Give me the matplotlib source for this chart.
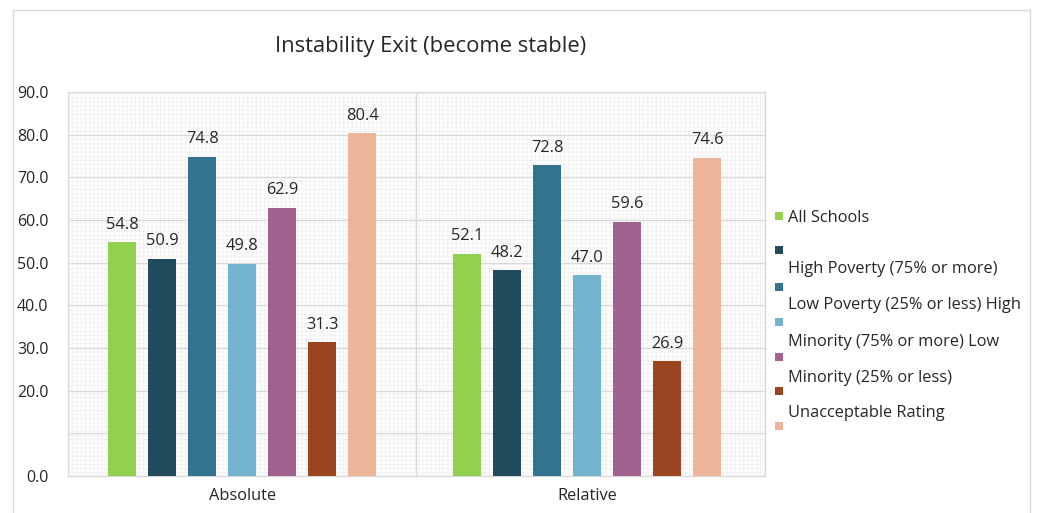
import numpy as np
import matplotlib.pyplot as plt
from matplotlib.patches import Rectangle

plt.rcParams['font.family'] = ['Open Sans', 'DejaVu Sans']
plt.rcParams['hatch.linewidth'] = 0.5

categories = ['Absolute', 'Relative']
series = ['All Schools', 'High Poverty (75% or more)', 'Low Poverty (25% or less)',
          'High Minority (75% or more)', 'Low Minority (25% or less)', 'Unacceptable Rating']
# the legend in the picture has its labels shifted against the markers
legend_labels = ['All Schools', '', 'High Poverty (75% or more)', 'Low Poverty (25% or less) High',
                 'Minority (75% or more) Low', 'Minority (25% or less)', 'Unacceptable Rating']
values = [
    [54.8, 52.1],
    [50.9, 48.2],
    [74.8, 72.8],
    [49.8, 47.0],
    [62.9, 59.6],
    [31.3, 26.9],
    [80.4, 74.6],
]
colors = ['#92D050', '#234B5E', '#33738F', '#74B3CD', '#A1628F', '#9B4420', '#EDB599']
ytick_vals = [0, 10, 20, 30, 40, 50, 60, 70, 80, 90]
ytick_labels = ['0.0', '', '20.0', '30.0', '40.0', '50.0', '60.0', '70.0', '80.0', '90.0']

fig = plt.figure(figsize=(10.37, 5.13), dpi=100)
fig.patches.append(Rectangle((13 / 1037, -0.1), 1017 / 1037, 1 - 10 / 513 + 0.1,
                             transform=fig.transFigure, fill=False, edgecolor='#d9d9d9', lw=1))
ax = fig.add_axes([68 / 1037, 1 - 476 / 513, 697 / 1037, 384 / 513])

# dotted background texture
ax.add_patch(Rectangle((0, 0), 1, 1, transform=ax.transAxes, facecolor='#fdfdfd',
                       edgecolor='#f0f0f0', hatch='++++', lw=0, zorder=0))

x = np.array([0, 0.99])
step = 0.1148
w = 0.08
for i, vals in enumerate(values):
    pos = x + (i - 3) * step
    ax.bar(pos, vals, width=w, color=colors[i], zorder=3)
    for p, v in zip(pos, vals):
        ax.text(p, v + 2.2, '%.1f' % v, ha='center', va='bottom', fontsize=11.8, color='#262626', zorder=4)

ax.set_xlim(-0.5, 1.5)
ax.set_ylim(0, 90)
ax.set_yticks(ytick_vals)
ax.set_yticklabels(ytick_labels)
ax.set_xticks(x)
ax.set_xticklabels(categories)
ax.tick_params(axis='both', length=0, colors='#262626')
ax.tick_params(axis='y', pad=14, labelsize=11.5)
ax.tick_params(axis='x', pad=9, labelsize=11.8)
ax.grid(axis='y', color='#d9d9d9', lw=0.9, zorder=1)
ax.axvline(0.5, color='#d9d9d9', lw=0.9, zorder=1)
for s in ax.spines.values():
    s.set_color('#d9d9d9')
    s.set_linewidth(0.9)

fig.text(431 / 1037, 1 - 47 / 513, 'Instability Exit (become stable)', ha='center', va='center',
         fontsize=15.8, color='#262626')

# legend drawn by hand
marker_y = [216, 250, 287, 322, 357, 391, 426]
label_y = [218, 251, 269, 305, 342, 378, 413]
for c, my in zip(colors, marker_y):
    fig.patches.append(Rectangle((775 / 1037, 1 - (my + 4) / 513), 8 / 1037, 8 / 513,
                                 transform=fig.transFigure, facecolor=c, edgecolor='none'))
for lab, ly in zip(legend_labels, label_y):
    fig.text(788 / 1037, 1 - ly / 513, lab, ha='left', va='center', fontsize=11.8, color='#262626')

fig.savefig('out.png', dpi=100)
